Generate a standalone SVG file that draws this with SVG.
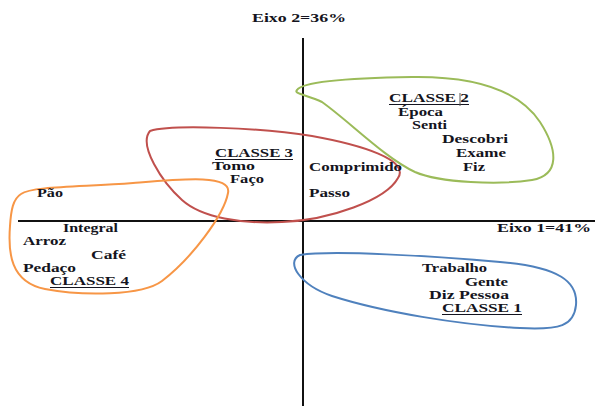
<svg xmlns="http://www.w3.org/2000/svg" width="595" height="406" viewBox="0 0 595 406">
<style>
text{font-family:"Liberation Serif","Times New Roman",serif;font-size:12.5px;font-weight:bold;fill:#141420}
.axis{stroke:#111;stroke-width:2;fill:none}
.ul{stroke:#141420;stroke-width:1}
.blob{fill:none;stroke-width:2}
</style>
<rect width="595" height="406" fill="#fff"/>
<g id="axes">
<line class="axis" x1="303" y1="38" x2="303" y2="406"/>
<line class="axis" x1="18" y1="221" x2="595" y2="221"/>
<text x="252" y="21.5" textLength="94" lengthAdjust="spacingAndGlyphs">Eixo 2=36%</text>
<text x="497" y="232" textLength="94" lengthAdjust="spacingAndGlyphs">Eixo 1=41%</text>
</g>
<g id="connectors">
<path id="green" class="blob" stroke="#9bbb59" d="M297,90 C302,82 350,78 412,77 C480,76 520,92 540,122 C558,150 560,175 532,180 C500,185 440,183 415,172 C385,158 350,122 322,102 C308,95 293,94 297,90 Z"/>
<path id="red" class="blob" stroke="#c0504d" d="M150,131 C172,124 262,128 312,136 C362,145 410,160 398,178 C386,200 330,220 282,222 C242,224 202,218 182,200 C162,182 138,145 150,131 Z"/>
<path id="orange" class="blob" stroke="#f79646" d="M21,194 C32,186 82,187 133,183 C182,179 232,174 228,193 C224,215 192,258 162,281 C142,296 82,296 45,289 C10,282 8,252 10,226 C11,210 13,199 21,194 Z"/>
<path id="blue" class="blob" stroke="#4f81bd" d="M300,255 C332,250 432,256 500,262 C560,267 578,282 576,305 C574,326 560,330 520,328 C460,325 382,312 332,296 C300,285 285,262 300,255 Z"/>
</g>
<g id="classe2">
<text x="389" y="102" textLength="80" lengthAdjust="spacingAndGlyphs">CLASSE 2</text>
<line class="ul" x1="389" y1="104.5" x2="469" y2="104.5"/>
<line x1="460" y1="93" x2="460" y2="106" stroke="#555" stroke-width="1"/>
<text x="398" y="116" textLength="45" lengthAdjust="spacingAndGlyphs">Época</text>
<text x="412" y="129" textLength="35" lengthAdjust="spacingAndGlyphs">Senti</text>
<text x="442" y="143" textLength="66" lengthAdjust="spacingAndGlyphs">Descobri</text>
<text x="456" y="157" textLength="50" lengthAdjust="spacingAndGlyphs">Exame</text>
<text x="463" y="171" textLength="22" lengthAdjust="spacingAndGlyphs">Fiz</text>
</g>
<g id="classe3">
<text x="215" y="157" textLength="78" lengthAdjust="spacingAndGlyphs">CLASSE 3</text>
<line class="ul" x1="215" y1="159.5" x2="293" y2="159.5"/>
<text x="212" y="170" textLength="43" lengthAdjust="spacingAndGlyphs">Tomo</text>
<text x="230" y="183" textLength="34" lengthAdjust="spacingAndGlyphs">Faço</text>
<text x="309" y="171" textLength="93" lengthAdjust="spacingAndGlyphs">Comprimido</text>
<text x="309" y="197" textLength="41" lengthAdjust="spacingAndGlyphs">Passo</text>
</g>
<g id="classe4">
<text x="37" y="197" textLength="26" lengthAdjust="spacingAndGlyphs">Pão</text>
<text x="63" y="232" textLength="55" lengthAdjust="spacingAndGlyphs">Integral</text>
<text x="23" y="245" textLength="43" lengthAdjust="spacingAndGlyphs">Arroz</text>
<text x="91" y="259" textLength="35" lengthAdjust="spacingAndGlyphs">Café</text>
<text x="23" y="272" textLength="53" lengthAdjust="spacingAndGlyphs">Pedaço</text>
<text x="50" y="285" textLength="79" lengthAdjust="spacingAndGlyphs">CLASSE 4</text>
<line class="ul" x1="50" y1="287.5" x2="129" y2="287.5"/>
</g>
<g id="classe1">
<text x="422" y="272" textLength="65" lengthAdjust="spacingAndGlyphs">Trabalho</text>
<text x="465" y="286" textLength="43" lengthAdjust="spacingAndGlyphs">Gente</text>
<text x="429" y="299" textLength="80" lengthAdjust="spacingAndGlyphs">Diz Pessoa</text>
<text x="442" y="312" textLength="80" lengthAdjust="spacingAndGlyphs">CLASSE 1</text>
<line class="ul" x1="442" y1="314.5" x2="522" y2="314.5"/>
</g>
</svg>
